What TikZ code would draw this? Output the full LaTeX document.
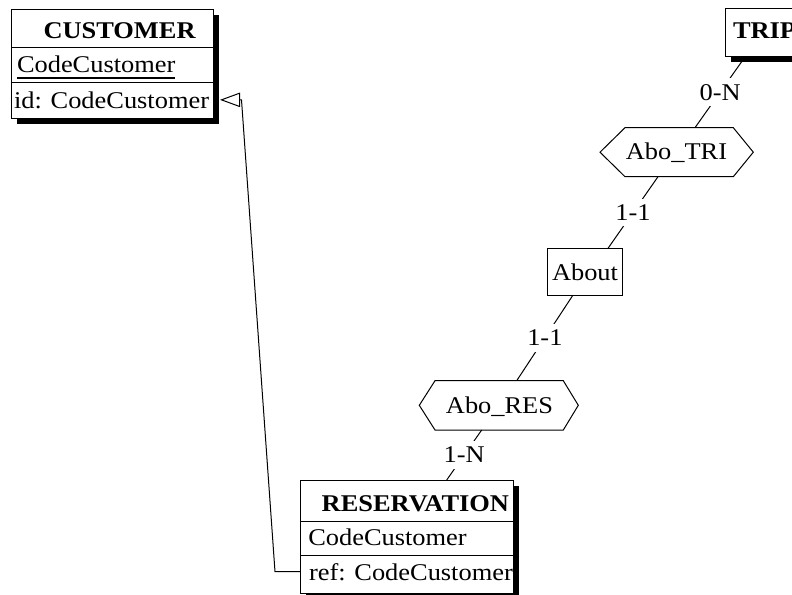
\documentclass[tikz,border=0pt]{standalone}
\usepackage{fontspec}
\setmainfont{Liberation Serif}[FakeStretch=1.1]
\usetikzlibrary{arrows.meta,shadows,calc}

\begin{document}
\begin{tikzpicture}[x=1pt, y=-1pt, line width=1pt,
  every node/.style={font=\fontsize{24}{28}\selectfont, inner sep=0pt, outer sep=0pt},
  entity/.style={draw, fill=white, rectangle,
    general shadow={fill=black, shadow xshift=5.5pt, shadow yshift=-5.5pt}},
  relbox/.style={draw, fill=white, rectangle},
  hexa/.style={draw, fill=white},
  title/.style={anchor=base west, font=\fontsize{24}{28}\selectfont\bfseries},
  attr/.style={anchor=base west},
  card/.style={fill=white, inner xsep=2pt, inner ysep=6pt},
  link/.style={draw},
  refline/.style={draw, -{Triangle[open, length=20pt, width=14.4pt]}}
]
\useasboundingbox (0,0) rectangle (792,594);
\clip (0,0) rectangle (792,594);

% ---- entity CUSTOMER ----
\node[entity, minimum width=202.5pt, minimum height=108.5pt] (customer) at (112.25,63.75) {};
\draw (customer.west |- 0,48) -- (customer.east |- 0,48);
\draw (customer.west |- 0,82) -- (customer.east |- 0,82);
\node[title] (cust-name) at (43.5,38.7) {CUSTOMER};
\node[attr] (cust-code) at (17,73) {CodeCustomer};
\draw[line width=1.3pt] ([yshift=-5pt]cust-code.base west) -- ([yshift=-5pt]cust-code.base east);
\node[attr] (cust-id) at (14,108) {id: CodeCustomer};

% ---- entity RESERVATION ----
\node[entity, minimum width=212.6pt, minimum height=113pt] (reservation) at (407,536.5) {};
\draw (reservation.west |- 0,521.7) -- (reservation.east |- 0,521.7);
\draw (reservation.west |- 0,555) -- (reservation.east |- 0,555);
\node[title] (res-name) at (321.7,511.7) {RESERVATION};
\node[attr] (res-code) at (308.3,545) {CodeCustomer};
\node[attr] (res-ref) at (309,580) {ref: CodeCustomer};

% ---- entity TRIP ----
\node[entity, minimum width=105pt, minimum height=48.4pt] (trip) at (777.5,32.5) {};
\node[title] (trip-name) at (733,38.3) {TRIP};

% ---- entity About ----
\node[relbox, minimum width=74.6pt, minimum height=46.7pt] (about) at (585,271.7) {};
\node[anchor=base] (about-name) at (585,280) {About};

% ---- relationship Abo_TRI ----
\draw[hexa] (600,152.2) -- (625,127.7) -- (733.3,127.7) -- (753.3,152.2)
  -- (733.3,176.7) -- (625,176.7) -- cycle;
\node[anchor=base] (abotri) at (676.5,159) {Abo\_TRI};
\coordinate (tri-n) at (695,127.7);
\coordinate (tri-s) at (658,176.7);

% ---- relationship Abo_RES ----
\draw[hexa] (419.3,405.3) -- (435,380.7) -- (563.3,380.7) -- (578.3,405.3)
  -- (563.3,430) -- (435,430) -- cycle;
\node[anchor=base] (abores) at (499.5,413) {Abo\_RES};
\coordinate (res-hex-n) at (516.7,380.7);
\coordinate (res-hex-s) at (481.7,430);

% ---- attachment points ----
\coordinate (trip-s) at ($(trip.south west)+(20.2,0)$);
\coordinate (about-n) at ($(about.north)+(23,0)$);
\coordinate (about-s) at ($(about.south)+(-12,0)$);
\coordinate (reservation-n) at ($(reservation.north west)+(146,0)$);

% ---- roles ----
\path[link] (trip-s) -- node[card] (c1) {0-N} (tri-n);
\path[link] (tri-s) -- node[card] (c2) {1-1} (about-n);
\path[link] (about-s) -- node[card] (c3) {1-1} (res-hex-n);
\path[link] (res-hex-s) -- node[card] (c4) {1-N} (reservation-n);

% ---- reference constraint ----
\path[refline] (reservation.west |- res-ref)
  -- ($(reservation.west |- res-ref)+(-25.7,0)$)
  -- ($(customer.east |- cust-id)+(28,0)$)
  -- ($(customer.east |- cust-id)+(6.5,0)$);
\end{tikzpicture}
\end{document}
